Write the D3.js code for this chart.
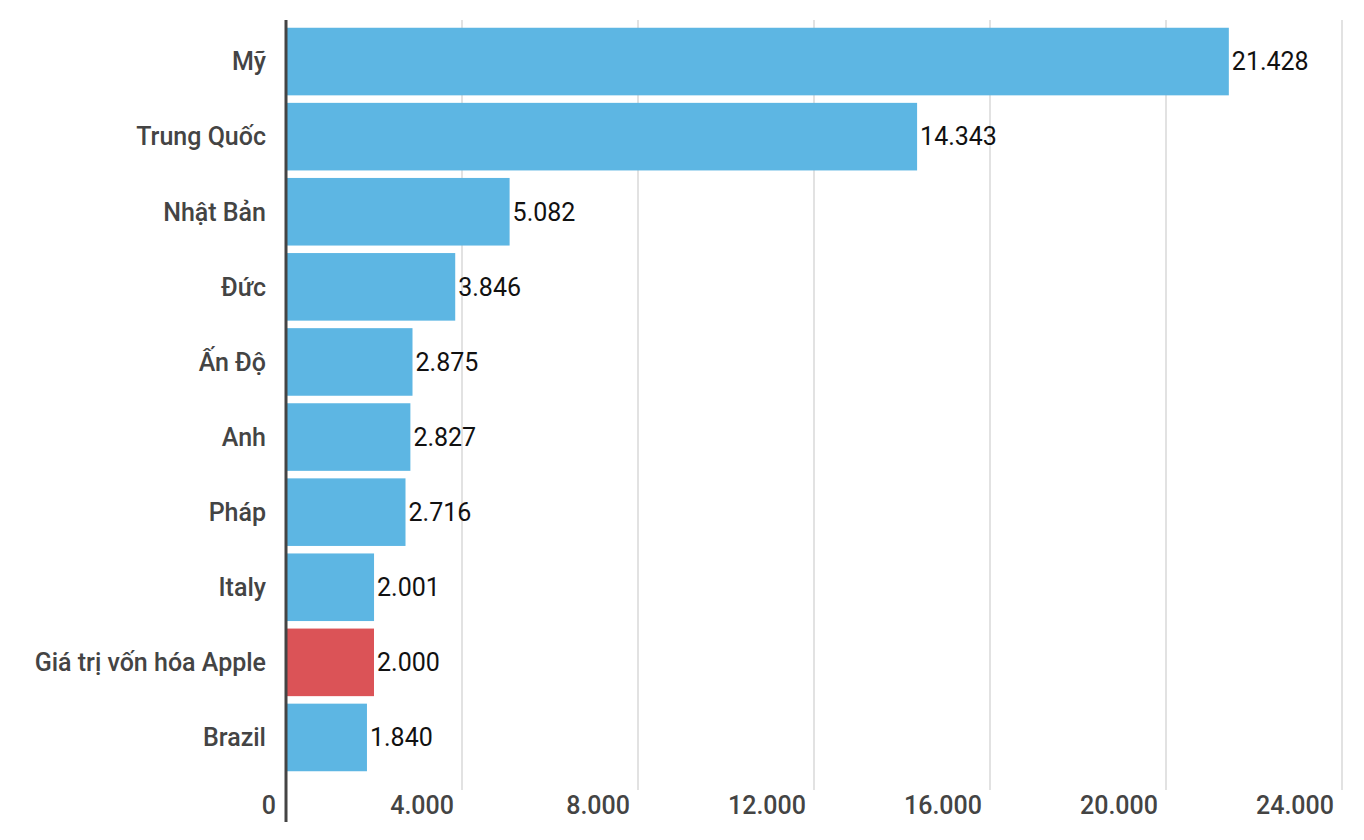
<!DOCTYPE html>
<html><head><meta charset="utf-8">
<script src="https://cdn.jsdelivr.net/npm/d3@7"></script>
<style>body{margin:0;background:#fff;font-family:Roboto,sans-serif}</style>
</head><body><div id="chart"></div>
<script>
var countries = ["Mỹ","Trung Quốc","Nhật Bản","Đức","Ấn Độ","Anh","Pháp","Italy","Giá trị vốn hóa Apple","Brazil"];
var values = [21428,14343,5082,3846,2875,2827,2716,2001,2000,1840];
var highlight = "Giá trị vốn hóa Apple";
var ticks = [0,4000,8000,12000,16000,20000,24000];

var fmt = function(v){ return d3.format(",")(v).replace(/,/g,"."); };

var svg = d3.select("#chart").append("svg").attr("width",1364).attr("height",840);

var x = d3.scaleLinear().domain([0,24000]).range([286,1342]);
var y = d3.scaleBand().domain(countries).range([24,775]).paddingInner(0.1).paddingOuter(0.05);

svg.selectAll("line.grid").data(ticks.slice(1)).enter().append("line")
  .attr("class","grid")
  .attr("x1",function(d){return x(d);}).attr("x2",function(d){return x(d);})
  .attr("y1",20).attr("y2",790)
  .attr("stroke","#d9d9d9").attr("stroke-width",1.5);

svg.selectAll("rect").data(countries).enter().append("rect")
  .attr("x",x(0)).attr("y",function(d){return y(d);})
  .attr("width",function(d,i){return x(values[i])-x(0);})
  .attr("height",y.bandwidth())
  .attr("fill",function(d){return d===highlight ? "#DB5357" : "#5DB6E3";});

svg.selectAll("text.val").data(countries).enter().append("text")
  .attr("class","val")
  .attr("x",function(d,i){return x(values[i])+3;})
  .attr("y",function(d){return y(d)+y.bandwidth()/2;})
  .attr("dy","0.35em").attr("font-size",25).attr("fill","#111")
  .text(function(d,i){return fmt(values[i]);});

svg.selectAll("text.cat").data(countries).enter().append("text")
  .attr("class","cat")
  .attr("x",266).attr("y",function(d){return y(d)+y.bandwidth()/2;})
  .attr("dy","0.35em").attr("text-anchor","end")
  .attr("font-size",25).attr("font-weight",500).attr("fill","#444")
  .text(function(d){return d;});

svg.selectAll("text.tick").data(ticks).enter().append("text")
  .attr("class","tick")
  .attr("x",function(d){return d===0 ? 276 : x(d)-8;})
  .attr("y",805).attr("dy","0.35em").attr("text-anchor","end")
  .attr("font-size",25).attr("font-weight",500).attr("fill","#444")
  .text(function(d){return fmt(d);});

svg.append("line").attr("x1",x(0)).attr("x2",x(0)).attr("y1",20).attr("y2",822)
  .attr("stroke","#444").attr("stroke-width",3);
</script></body></html>
